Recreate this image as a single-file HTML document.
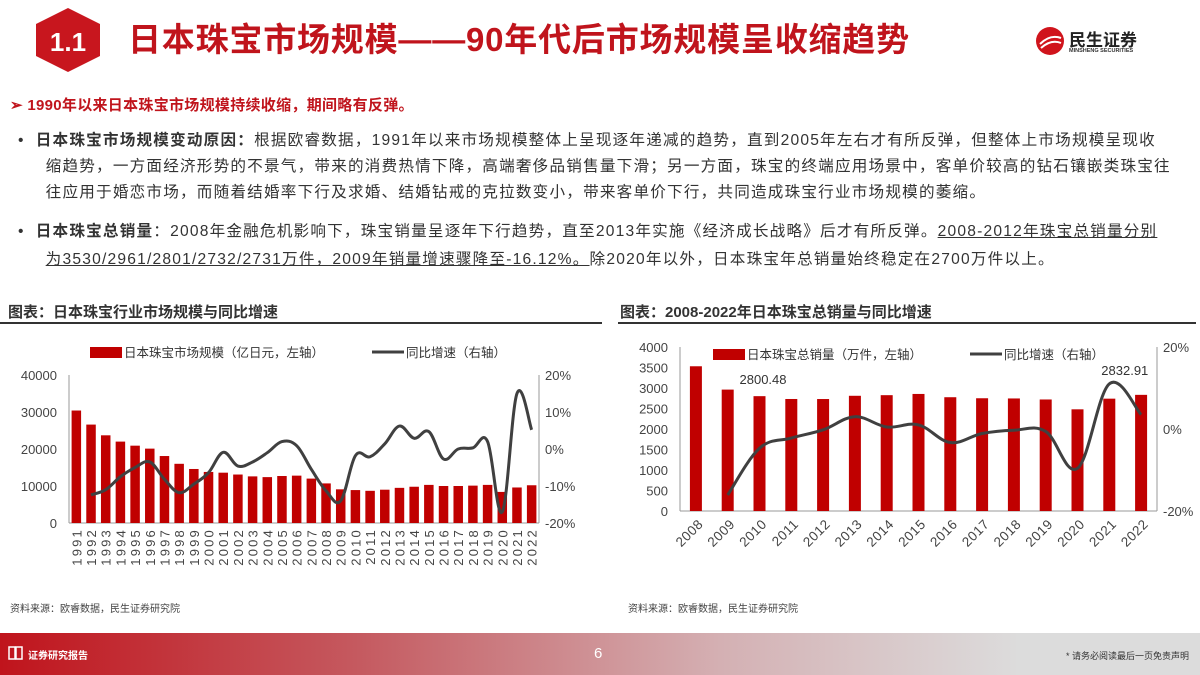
<!DOCTYPE html>
<html><head><meta charset="utf-8">
<style>
body{margin:0;width:1200px;height:675px;overflow:hidden;background:#fff;font-family:"Liberation Sans","Noto Sans CJK SC",sans-serif;position:relative}
.abs{position:absolute}
.title{left:128px;top:13px;font-size:33px;font-weight:bold;color:#c0141c;letter-spacing:0.8px;white-space:nowrap}
.txt{font-size:15.6px;color:#333;white-space:nowrap;letter-spacing:1.2px}
.hdr{font-size:15px;font-weight:bold;color:#333}
.src{font-size:10px;color:#444}
u{text-decoration:underline}
</style></head><body>
<svg class="abs" style="left:30px;top:6px" width="76" height="68">
<polygon points="38,2 70,18 70,50 38,66 6,50 6,18" fill="#c8161e"/>
<text x="38" y="45" text-anchor="middle" font-size="26" font-weight="bold" fill="#fff" font-family="Liberation Sans">1.1</text></svg>
<div class="abs title">日本珠宝市场规模——90年代后市场规模呈收缩趋势</div>
<div class="abs" style="left:1035px;top:26px">
<svg width="30" height="30" style="position:absolute;left:0;top:0"><circle cx="15" cy="15" r="14" fill="#d0141c"/><path d="M5 18 Q15 8 26 12 M6 22 Q16 13 26 17" stroke="#fff" stroke-width="2" fill="none"/></svg>
<div class="abs" style="left:34px;top:0;font-size:17px;font-weight:bold;color:#222;white-space:nowrap">民生证券</div>
<div class="abs" style="left:34px;top:22px;font-size:5.5px;font-weight:bold;color:#333;white-space:nowrap">MINSHENG SECURITIES</div></div>

<div class="abs txt" style="left:10px;top:94px;color:#c0141c;font-weight:bold;font-size:15px;letter-spacing:0.3px">➢ 1990年以来日本珠宝市场规模持续收缩，期间略有反弹。</div>
<div class="abs txt" style="left:18px;top:128px;line-height:26px">•&nbsp;&nbsp;<b>日本珠宝市场规模变动原因：</b>根据欧睿数据，1991年以来市场规模整体上呈现逐年递减的趋势，直到2005年左右才有所反弹，但整体上市场规模呈现收<br>&nbsp;&nbsp;&nbsp;&nbsp;&nbsp;缩趋势，一方面经济形势的不景气，带来的消费热情下降，高端奢侈品销售量下滑；另一方面，珠宝的终端应用场景中，客单价较高的钻石镶嵌类珠宝往<br>&nbsp;&nbsp;&nbsp;&nbsp;&nbsp;往应用于婚恋市场，而随着结婚率下行及求婚、结婚钻戒的克拉数变小，带来客单价下行，共同造成珠宝行业市场规模的萎缩。</div>
<div class="abs txt" style="left:18px;top:218px;line-height:28px">•&nbsp;&nbsp;<b>日本珠宝总销量</b>：2008年金融危机影响下，珠宝销量呈逐年下行趋势，直至2013年实施《经济成长战略》后才有所反弹。<u>2008-2012年珠宝总销量分别</u><br>&nbsp;&nbsp;&nbsp;&nbsp;&nbsp;<u>为3530/2961/2801/2732/2731万件，2009年销量增速骤降至-16.12%。</u>除2020年以外，日本珠宝年总销量始终稳定在2700万件以上。</div>

<div class="abs hdr" style="left:8px;top:301px">图表：日本珠宝行业市场规模与同比增速</div>
<div class="abs" style="left:0;top:322px;width:602px;height:2px;background:#333"></div>
<div class="abs hdr" style="left:620px;top:301px">图表：2008-2022年日本珠宝总销量与同比增速</div>
<div class="abs" style="left:618px;top:322px;width:578px;height:2px;background:#333"></div>

<svg id="c1" class="abs" style="left:0;top:335px" width="605" height="250"></svg>
<svg id="c2" class="abs" style="left:610px;top:335px" width="590" height="250"></svg>

<div class="abs src" style="left:10px;top:600px">资料来源：欧睿数据，民生证券研究院</div>
<div class="abs src" style="left:628px;top:600px">资料来源：欧睿数据，民生证券研究院</div>

<div class="abs" style="left:0;top:633px;width:1200px;height:42px;background:linear-gradient(90deg,#c0141c 0%,#c55a60 30%,#d4b0b3 60%,#dcdcdc 85%,#dcdcdc 100%)">
<svg class="abs" style="left:8px;top:12px" width="16" height="16"><rect x="1" y="2" width="6" height="12" fill="none" stroke="#fff" stroke-width="1.5"/><rect x="8" y="2" width="6" height="12" fill="none" stroke="#fff" stroke-width="1.5"/></svg>
<div class="abs" style="left:28px;top:14px;font-size:10px;color:#fff;font-weight:bold">证券研究报告</div>
<div class="abs" style="left:594px;top:12px;font-size:15px;color:#fff">6</div>
<div class="abs" style="left:1066px;top:16px;font-size:9px;color:#333">* 请务必阅读最后一页免责声明</div>
</div>

<script>
const years1=['1991','1992','1993','1994','1995','1996','1997','1998','1999','2000','2001','2002','2003','2004','2005','2006','2007','2008','2009','2010','2011','2012','2013','2014','2015','2016','2017','2018','2019','2020','2021','2022'];
const market=[30400,26600,23700,22000,20900,20100,18100,16000,14600,13800,13600,13100,12600,12400,12700,12800,12000,10700,9100,8900,8700,9000,9500,9800,10300,10000,10000,10100,10300,8400,9600,10200];
const growth1=[null,-12.4,-11,-7.5,-5,-3.5,-8.2,-11.8,-9.5,-6.4,-0.9,-4.6,-3.5,-1,2,0.9,-5.5,-11.3,-14,-1.8,-2.1,1.4,6.2,2.9,4.7,-2.7,0,0.3,2,-17,15,5.2];
const leftTicks1=['0','10000','20000','30000','40000'];
const rightTicks1=['-20%','-10%','0%','10%','20%'];

const years2=['2008','2009','2010','2011','2012','2013','2014','2015','2016','2017','2018','2019','2020','2021','2022'];
const sales=[3530,2961,2801,2732,2731,2810,2825,2855,2775,2750,2745,2720,2480,2740,2833];
const growth2=[null,-16.1,-4.7,-2.2,-0.2,3,0.5,1,-3.3,-1.1,-0.3,-0.6,-9.6,11,3.5];
const leftTicks2=['0','500','1000','1500','2000','2500','3000','3500','4000'];
const rightTicks2=['-20%','0%','20%'];

const NS='http://www.w3.org/2000/svg';
function mk(svg,tag,attrs,txt){const e=document.createElementNS(NS,tag);for(const k in attrs)e.setAttribute(k,attrs[k]);if(txt!==undefined)e.textContent=txt;svg.appendChild(e);return e;}
function smooth(pts){let d='M'+pts[0][0]+','+pts[0][1];for(let i=0;i<pts.length-1;i++){const p0=pts[i-1]||pts[i],p1=pts[i],p2=pts[i+1],p3=pts[i+2]||p2;const t=0.18;d+=' C'+(p1[0]+(p2[0]-p0[0])*t)+','+(p1[1]+(p2[1]-p0[1])*t)+' '+(p2[0]-(p3[0]-p1[0])*t)+','+(p2[1]-(p3[1]-p1[1])*t)+' '+p2[0]+','+p2[1];}return d;}

function chart(id,o){
 const svg=document.getElementById(id);
 const n=o.cats.length, step=(o.x1-o.x0)/n;
 const xc=i=>o.x0+step*(i+0.5);
 const yL=v=>o.yb-(v-o.lmin)/(o.lmax-o.lmin)*(o.yb-o.yt);
 const yR=v=>o.yb-(v-o.rmin)/(o.rmax-o.rmin)*(o.yb-o.yt);
 o.lt.forEach((t,i)=>{const v=o.lmin+i*(o.lmax-o.lmin)/(o.lt.length-1);const e=mk(svg,'text',{x:o.x0-12,y:yL(v)+5,'text-anchor':'end','font-size':13,fill:'#444'},t);
 
 });
 o.rt.forEach((t,i)=>{const v=o.rmin+i*(o.rmax-o.rmin)/(o.rt.length-1);const e=mk(svg,'text',{x:o.x1+6,y:yR(v)+5,'font-size':13,fill:'#444'},t);
 
 });
 mk(svg,'line',{x1:o.x0,y1:o.yt,x2:o.x0,y2:o.yb,stroke:'#999'});
 mk(svg,'line',{x1:o.x1,y1:o.yt,x2:o.x1,y2:o.yb,stroke:'#999'});
 mk(svg,'line',{x1:o.x0,y1:o.yb,x2:o.x1,y2:o.yb,stroke:'#999'});
 o.vals.forEach((v,i)=>{const r=mk(svg,'rect',{x:xc(i)-o.bw/2,y:yL(v),width:o.bw,height:o.yb-yL(v),fill:'#c00000'});
 
 });
 o.cats.forEach((c,i)=>{let e;
  if(o.rot===90){e=mk(svg,'text',{x:0,y:0,transform:'translate('+(xc(i)+5)+','+(o.yb+5)+') rotate(-90)','text-anchor':'end','font-size':13,'letter-spacing':2.2,fill:'#444'},c);}
  else{e=mk(svg,'text',{x:0,y:0,transform:'translate('+(xc(i)+8)+','+(o.yb+14)+') rotate(-45)','text-anchor':'end','font-size':13.5,'letter-spacing':0.5,fill:'#444'},c);}
  
  });
 const pts=[];o.gr.forEach((g,i)=>{if(g!==null)pts.push([xc(i),yR(g)]);});
 const p=mk(svg,'path',{d:smooth(pts),fill:'none',stroke:'#404040','stroke-width':3});
 
 
 const lg=mk(svg,'g',{});
 
 
 mk(lg,'rect',{x:o.lgx,y:o.lgy-9,width:32,height:11,fill:'#c00000'});
 mk(lg,'text',{x:o.lgx+34,y:o.lgy+1,'font-size':12.5,fill:'#333'},o.l1);
 mk(lg,'line',{x1:o.lgx2,y1:o.lgy-4,x2:o.lgx2+32,y2:o.lgy-4,stroke:'#404040','stroke-width':3});
 mk(lg,'text',{x:o.lgx2+34,y:o.lgy+1,'font-size':12.5,fill:'#333'},'同比增速（右轴）');
 return {xc,yL};
}
chart('c1',{cats:years1,vals:market,gr:growth1,lt:leftTicks1,rt:rightTicks1,x0:69,x1:539,yt:40,yb:188,lmin:0,lmax:40000,rmin:-20,rmax:20,bw:9.5,rot:90,lgx:90,lgy:21,lgx2:372,l1:'日本珠宝市场规模（亿日元，左轴）'});
const c2=chart('c2',{cats:years2,vals:sales,gr:growth2,lt:leftTicks2,rt:rightTicks2,x0:70,x1:547,yt:12,yb:176,lmin:0,lmax:4000,rmin:-20,rmax:20,bw:12,rot:45,lgx:103,lgy:23,lgx2:360,l1:'日本珠宝总销量（万件，左轴）'});
const svg2=document.getElementById('c2');
const a=mk(svg2,'text',{x:c2.xc(2)-20,y:c2.yL(sales[2])-12,'font-size':13,fill:'#333'},'2800.48');


const b=mk(svg2,'text',{x:c2.xc(13)-8,y:c2.yL(sales[14])-20,'font-size':13,fill:'#333'},'2832.91');


</script>
</body></html>
